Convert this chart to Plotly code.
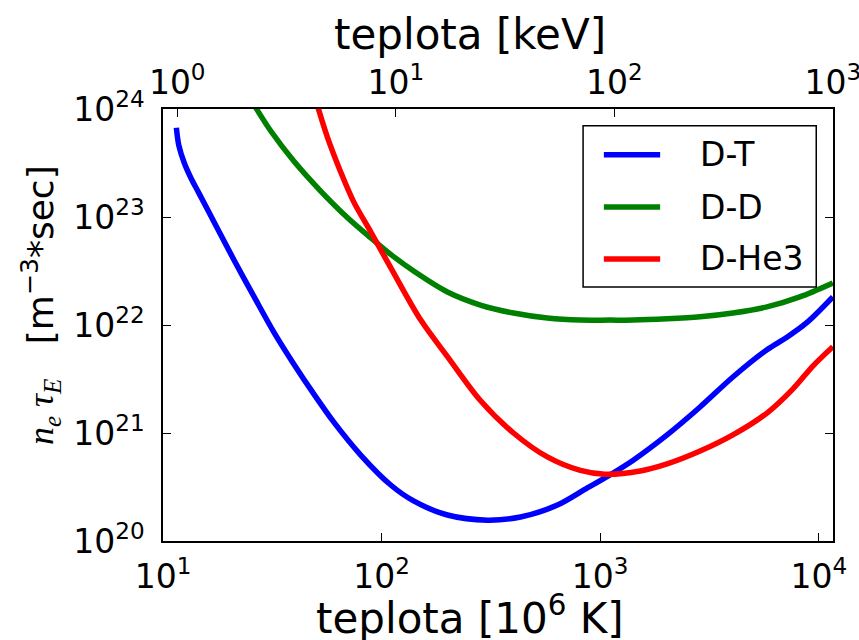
import numpy as np
import plotly.graph_objects as go

# Temperature in 10^6 K and required n_e*tau_E in m^-3 s for each fuel cycle
dt_temp = [11.5, 11.8, 12.5, 13.4, 14.5, 17.1, 21.1, 26.1, 32.1, 39.6, 48.9, 60.4,
           80.2, 110, 140, 200, 305, 432, 637, 873, 1110, 1416, 2023, 2864, 4046,
           5794, 7145, 8810, 11600]
dt_ntau = [6.7e23, 4.6e23, 3.16e23, 2.3e23, 1.7e23, 9.0e22, 4.0e22, 1.82e22, 8.6e21,
           4.36e21, 2.3e21, 1.26e21, 6.25e20, 3.3e20, 2.35e20, 1.74e20, 1.56e20,
           1.67e20, 2.15e20, 3.1e20, 4.1e20, 5.6e20, 9.6e20, 1.74e21, 3.3e21, 5.9e21,
           7.7e21, 1.05e22, 1.82e22]

dd_temp = [25.0, 26.6, 31.1, 39.6, 52.6, 70.0, 91.8, 110, 140, 200, 283, 401, 573,
           811, 1110, 1416, 2023, 2864, 4046, 5794, 8185, 11600]
dd_ntau = [1.25e24, 1.02e24, 6.25e23, 3.3e23, 1.74e23, 9.8e22, 6.1e22, 4.5e22, 3.16e22,
           2.02e22, 1.53e22, 1.29e22, 1.16e22, 1.11e22, 1.11e22, 1.11e22, 1.14e22,
           1.19e22, 1.29e22, 1.47e22, 1.82e22, 2.45e22]

dhe3_temp = [50.0, 56.6, 65.0, 74.5, 89.1, 110, 151, 200, 283, 401, 573, 811, 1050,
             1524, 2023, 2864, 4046, 5794, 7603, 9397, 11600]
dhe3_ntau = [1.2e24, 5.4e23, 2.6e23, 1.38e23, 7.3e22, 3.4e22, 1.11e22, 5.1e21, 2.0e21,
             1.0e21, 6.0e20, 4.5e20, 4.15e20, 4.45e20, 5.17e20, 6.8e20, 9.6e20, 1.53e21,
             2.55e21, 4.17e21, 6.3e21]

series = [("D-T", dt_temp, dt_ntau, "#0000ff"),
          ("D-D", dd_temp, dd_ntau, "#008000"),
          ("D-He3", dhe3_temp, dhe3_ntau, "#ff0000")]

# Axis ticks
x_ticks = [10, 100, 1000, 10000]
y_ticks = [1e20, 1e21, 1e22, 1e23, 1e24]
kev_ticks = [1, 10, 100, 1000]
MK_PER_KEV = 11.6045  # 1 keV expressed in 10^6 K

x_min, x_max = 10, 1000 * MK_PER_KEV
y_min, y_max = 1e20, 1e24
x_range = [np.log10(x_min) - 0.0005, np.log10(x_max) + 0.0005]


def pow10(v):
    return "10<sup>%d</sup>" % int(round(np.log10(v)))


FONT = "DejaVu Sans"
TICK_SIZE = 33
TITLE_SIZE = 42

fig = go.Figure()
for i, (name, t, n, color) in enumerate(series):
    # the last curve is attached to the top (keV) axis, which shares the
    # bottom axis range, so it lands exactly where it would on the bottom one
    fig.add_trace(go.Scatter(
        x=t, y=n, name=name, mode="lines",
        xaxis="x2" if i == len(series) - 1 else "x",
        line=dict(color=color, width=5.5, shape="spline", smoothing=0.9),
        showlegend=False,
    ))

axis_common = dict(
    type="log", showgrid=False, zeroline=False, showline=True,
    linecolor="black", linewidth=1.5, ticks="inside", ticklen=8,
    tickwidth=1, tickcolor="black", ticklabeloverflow="allow", automargin=False,
    tickfont=dict(family=FONT, size=TICK_SIZE, color="black"),
)

fig.update_layout(
    width=859, height=640,
    margin=dict(l=163, r=26, t=109, b=99, autoexpand=False),
    paper_bgcolor="white", plot_bgcolor="white",
    font=dict(family=FONT, color="black"),
    xaxis=dict(axis_common, range=x_range,
               tickvals=x_ticks, ticktext=[pow10(v) for v in x_ticks],
               mirror=False, ticklabelstandoff=6),
    xaxis2=dict(axis_common, range=x_range,
                overlaying="x", side="top", anchor="y", matches="x",
                tickvals=[k * MK_PER_KEV for k in kev_ticks],
                ticktext=[pow10(k) for k in kev_ticks]),
    yaxis=dict(axis_common, range=[np.log10(y_min), np.log10(y_max)],
               tickvals=y_ticks, ticktext=[pow10(v) for v in y_ticks],
               mirror="ticks", ticklabelstandoff=10),
    showlegend=False,
)

# Legend box drawn in paper coordinates: frame, line samples and labels
legend_box = dict(x0=0.627, x1=0.975, y0=0.588, y1=0.961)
legend_rows = [0.894, 0.773, 0.653]
shapes = [dict(type="rect", xref="paper", yref="paper", layer="above",
               line=dict(color="black", width=1.5), fillcolor="white", **legend_box)]
annotations = []
for (name, _, _, color), ly in zip(series, legend_rows):
    shapes.append(dict(type="line", xref="paper", yref="paper", layer="above",
                       x0=0.658, x1=0.742, y0=ly, y1=ly,
                       line=dict(color=color, width=5.5)))
    annotations.append(dict(text=name, x=0.799, y=ly, xref="paper", yref="paper",
                            xanchor="left", yanchor="middle", showarrow=False,
                            font=dict(family=FONT, size=TICK_SIZE, color="black")))

annotations += [
    dict(text="teplota [keV]", x=0.458, y=1.172, xref="paper", yref="paper",
         xanchor="center", yanchor="middle", showarrow=False,
         font=dict(family=FONT, size=TITLE_SIZE, color="black")),
    dict(text="teplota [10<sup>6</sup> K]", x=0.458, y=-0.105, xref="paper", yref="paper",
         xanchor="center", yanchor="top", showarrow=False,
         font=dict(family=FONT, size=TITLE_SIZE, color="black")),
    dict(text="<span style='font-family:Liberation Serif'><i>n<sub>e</sub> τ<sub>E</sub></i></span>"
              "   [m<sup>−3</sup>*sec]",
         x=-0.1836, y=0.546, xref="paper", yref="paper", textangle=-90,
         xanchor="center", yanchor="middle", showarrow=False,
         font=dict(family=FONT, size=36, color="black")),
]
fig.update_layout(shapes=shapes, annotations=annotations)

fig.write_html("out.html")
